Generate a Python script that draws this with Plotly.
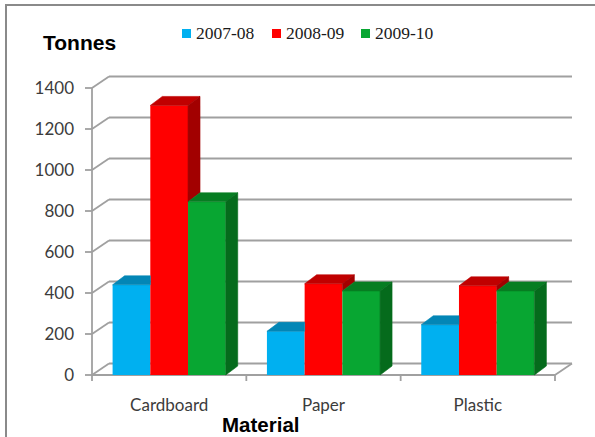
import plotly.graph_objects as go

# ---- data -------------------------------------------------------------
categories = ["Cardboard", "Paper", "Plastic"]
seasons = ["2007-08", "2008-09", "2009-10"]
tonnes_2007_08 = [440, 213, 245]
tonnes_2008_09 = [1315, 445, 435]
tonnes_2009_10 = [845, 410, 410]
y_ticks = [0, 200, 400, 600, 800, 1000, 1200, 1400]

series = [tonnes_2007_08, tonnes_2008_09, tonnes_2009_10]
front_colors = ["#00B0F0", "#FF0000", "#08A632"]
top_colors = ["#0386B6", "#C00000", "#067D22"]
side_colors = ["#02729C", "#A20000", "#056B1C"]

# ---- page geometry (pixels) -------------------------------------------
W, H = 595, 437
X0_PX, X_SCALE = 92, 154.33    # px of the left plane edge, px per category
Y0_PX, Y_SCALE = 375, 0.205    # px of the zero line, px per tonne
L, R, T, B = 80, 15, 70, 52    # plot-area margins


def xu(px):
    return -0.5 + (px - X0_PX) / X_SCALE


def yu(py):
    return (Y0_PX - py) / Y_SCALE


def paper_x(px):
    return (px - L) / (W - L - R)


def paper_y(py):
    return (H - B - py) / (H - T - B)


# depth of the back wall and of the columns
WALL_DX, WALL_DY = 17 / X_SCALE, 11.5 / Y_SCALE
BAR_DX, BAR_DY = 12 / X_SCALE, 9 / Y_SCALE
BARGAP = 0.267
BW = (1 - BARGAP) / len(series)

GRID = "#A0A0A0"
LABEL_FONT = dict(family="Lato", size=17, color="#3C3C3C")

fig = go.Figure()

# front faces of the columns
for k, vals in enumerate(series):
    fig.add_trace(go.Bar(
        x=list(range(len(categories))), y=vals, name=seasons[k],
        marker=dict(color=front_colors[k], line=dict(width=0)),
        showlegend=False, hovertemplate="%{y}<extra>" + seasons[k] + "</extra>",
    ))


def face(xs, ys, color):
    fig.add_trace(go.Scatter(
        x=xs, y=ys, mode="lines", fill="toself", fillcolor=color,
        line=dict(color=color, width=0.6), hoverinfo="skip", showlegend=False,
    ))


# top and side faces, trimmed where the next column hides them
for i in range(len(categories)):
    for k, vals in enumerate(series):
        v = vals[i]
        left = i - (1 - BARGAP) / 2 + k * BW
        right = left + BW
        nxt = series[k + 1][i] if k + 1 < len(series) else None
        if nxt is not None and nxt >= v + BAR_DY:
            face([left, right, right, left + BAR_DX, left],
                 [v, v, v + BAR_DY, v + BAR_DY, v], top_colors[k])
        else:
            face([left, right, right + BAR_DX, left + BAR_DX, left],
                 [v, v, v + BAR_DY, v + BAR_DY, v], top_colors[k])
        if nxt is None or nxt < v:
            base = 0 if nxt is None else nxt
            face([right, right + BAR_DX, right + BAR_DX, right, right],
                 [base, base + BAR_DY, v + BAR_DY, v, base], side_colors[k])

# walls, floor and axis lines
shapes = []


def seg(x0, y0, x1, y1):
    shapes.append(dict(type="line", xref="x", yref="y", x0=x0, y0=y0, x1=x1, y1=y1,
                       line=dict(color=GRID, width=1.8), layer="below"))


x_lo, x_hi = -0.5, len(categories) - 0.5
for v in y_ticks:
    seg(x_lo + WALL_DX, v + WALL_DY, x_hi + WALL_DX, v + WALL_DY)
    seg(x_lo, v, x_lo + WALL_DX, v + WALL_DY)
    seg(xu(85), v, x_lo, v)
seg(x_lo, 0, x_lo, y_ticks[-1])
seg(x_lo, 0, x_hi, 0)
seg(x_hi, 0, x_hi + WALL_DX, WALL_DY)
for b in range(len(categories) + 1):
    seg(x_lo + b, 0, x_lo + b, yu(381))

# chart frame
shapes.append(dict(type="rect", xref="paper", yref="paper",
                   x0=paper_x(6), y0=paper_y(5), x1=paper_x(640), y1=paper_y(480),
                   line=dict(color="#8A8A8A", width=2), fillcolor="rgba(0,0,0,0)",
                   layer="below"))

# legend keys
annotations = []
legend_px = [182, 272, 361]
for k, name in enumerate(seasons):
    x0 = legend_px[k]
    shapes.append(dict(type="rect", xref="paper", yref="paper",
                       x0=paper_x(x0), x1=paper_x(x0 + 9),
                       y0=paper_y(38), y1=paper_y(29),
                       fillcolor=front_colors[k], line=dict(width=0)))
    annotations.append(dict(text=name, xref="paper", yref="paper",
                            x=paper_x(x0 + 12), y=paper_y(33.5),
                            xanchor="left", yanchor="middle", showarrow=False,
                            font=dict(family="Liberation Serif", size=17.5, color="#1A1A1A")))

annotations.append(dict(text="<b>Tonnes</b>", xref="paper", yref="paper",
                        x=paper_x(41), y=paper_y(42), xanchor="left", yanchor="middle",
                        showarrow=False,
                        font=dict(family="Liberation Sans", size=21, color="#000000")))
annotations.append(dict(text="<b>Material</b>", xref="paper", yref="paper",
                        x=paper_x(260), y=paper_y(424), xanchor="center", yanchor="middle",
                        showarrow=False, borderpad=0,
                        font=dict(family="Liberation Sans", size=20.5, color="#000000")))

fig.update_layout(
    width=W, height=H,
    margin=dict(l=L, r=R, t=T, b=B, pad=0),
    paper_bgcolor="white", plot_bgcolor="white",
    barmode="group", bargap=BARGAP, bargroupgap=0,
    shapes=shapes, annotations=annotations, showlegend=False,
    xaxis=dict(range=[xu(L), xu(W - R)], tickvals=list(range(len(categories))),
               ticktext=categories, showgrid=False, zeroline=False, showline=False,
               ticks="", tickfont=LABEL_FONT, ticklabelstandoff=8, fixedrange=True),
    yaxis=dict(range=[yu(H - B), yu(T)], tickvals=y_ticks, showgrid=False,
               zeroline=False, showline=False, ticks="", tickfont=LABEL_FONT,
               ticklabelstandoff=5, fixedrange=True),
)

fig.write_html("out.html")
